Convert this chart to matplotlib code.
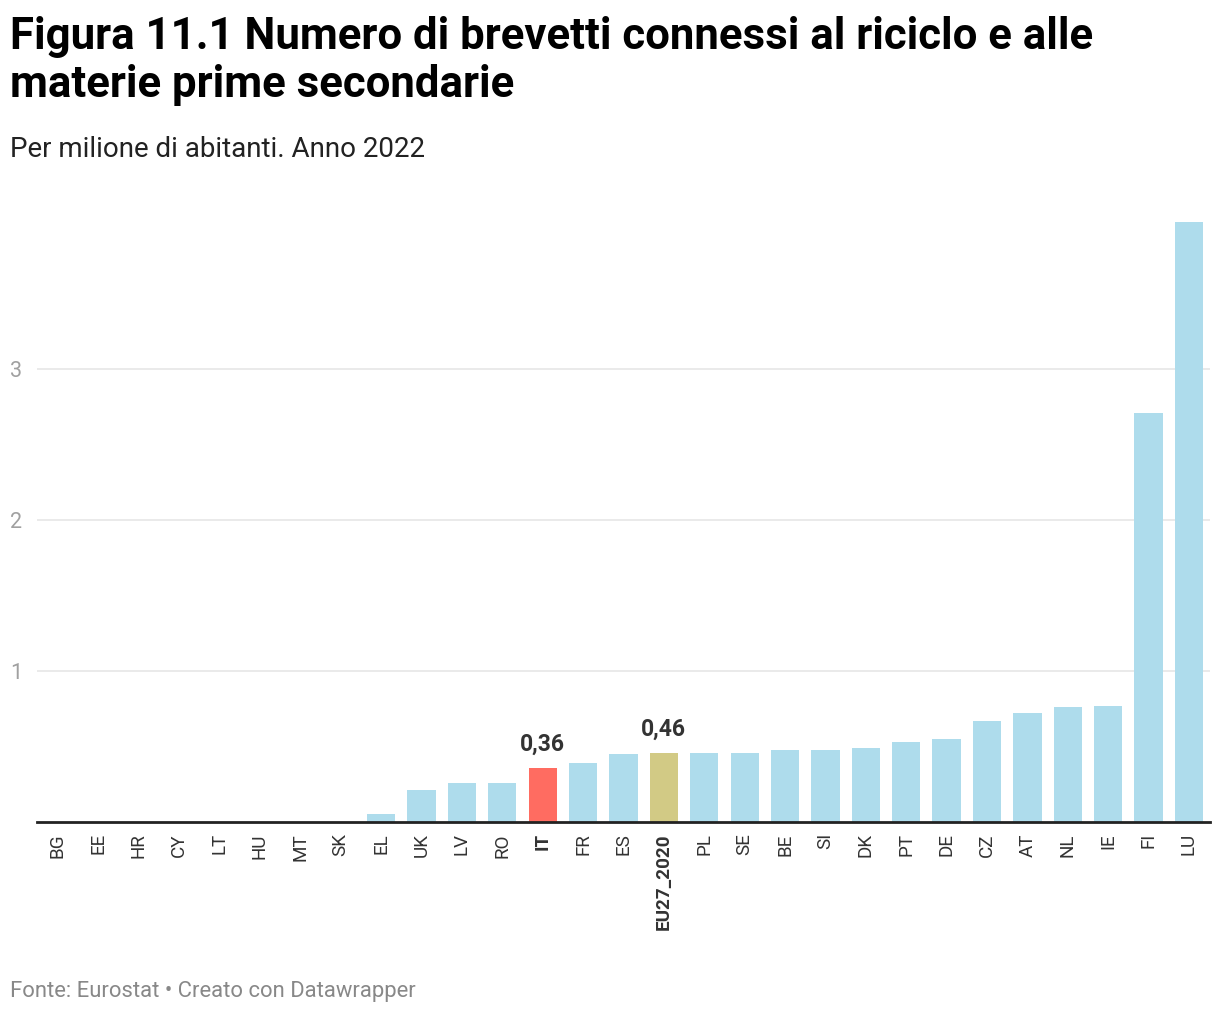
import matplotlib.pyplot as plt

plt.rcParams['font.family'] = ['Roboto', 'DejaVu Sans']

paesi = ["BG", "EE", "HR", "CY", "LT", "HU", "MT", "SK", "EL", "UK", "LV", "RO",
         "IT", "FR", "ES", "EU27_2020", "PL", "SE", "BE", "SI", "DK", "PT", "DE",
         "CZ", "AT", "NL", "IE", "FI", "LU"]
valori = [0, 0, 0, 0, 0, 0, 0, 0, 0.05, 0.21, 0.26, 0.26,
          0.36, 0.39, 0.45, 0.46, 0.46, 0.46, 0.48, 0.48, 0.49, 0.53, 0.55,
          0.67, 0.72, 0.76, 0.77, 2.71, 3.97]
evidenziati = {"IT": "#ff6c61", "EU27_2020": "#d2ca85"}
etichette = {"IT": "0,36", "EU27_2020": "0,46"}

fig = plt.figure(figsize=(12.2, 10.14), dpi=100)
ax = fig.add_axes([0.0303, 0.1893, 0.9615, 0.596])

x = list(range(len(paesi)))
colori = [evidenziati.get(p, "#aedcec") for p in paesi]
ax.bar(x, valori, width=0.7, color=colori, zorder=2)

for i, p in enumerate(paesi):
    if p in etichette:
        ax.text(i, valori[i] + 0.08, etichette[p], ha="center", va="bottom",
                fontsize=16.5, fontweight="bold", color="#333333")

ax.set_xlim(-0.52, len(paesi) - 0.48)
ax.set_ylim(0, 4.0)
ax.set_yticks([1, 2, 3])
ax.yaxis.grid(True, color="#e6e6e6", linewidth=1.2, zorder=0)
for s in ["top", "right", "left"]:
    ax.spines[s].set_visible(False)
ax.spines["bottom"].set_color("#222222")
ax.spines["bottom"].set_linewidth(2)
ax.spines["bottom"].set_zorder(3)

ax.set_xticks(x)
ax.set_xticklabels(paesi, rotation=90, fontsize=13.6, color="#333333")
for lab in ax.get_xticklabels():
    if lab.get_text() in evidenziati:
        lab.set_fontweight("bold")
ax.tick_params(axis="x", length=0, pad=8)
ax.tick_params(axis="y", length=0, labelsize=15.5, labelcolor="#a0a0a0")
for lab in ax.get_yticklabels():
    lab.set_horizontalalignment("left")
ax.yaxis.set_tick_params(pad=19.5)

fig.text(0.008, 0.984, "Figura 11.1 Numero di brevetti connessi al riciclo e alle\nmaterie prime secondarie",
         fontsize=31.5, fontweight="bold", color="#000000", va="top", ha="left", linespacing=1.17)
fig.text(0.008, 0.866, "Per milione di abitanti. Anno 2022", fontsize=20, color="#222222",
         va="top", ha="left")
fig.text(0.008, 0.012, "Fonte: Eurostat • Creato con Datawrapper", fontsize=15.8,
         color="#888888", va="bottom", ha="left")

fig.savefig("out.png", dpi=100)
